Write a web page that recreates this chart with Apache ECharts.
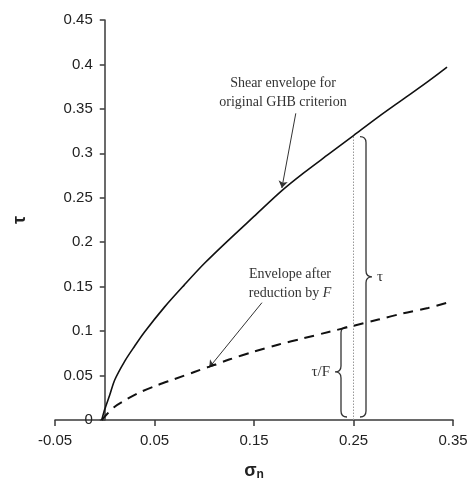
<!DOCTYPE html>
<html>
<head>
<meta charset="utf-8">
<script src="https://cdn.jsdelivr.net/npm/echarts@6/dist/echarts.min.js"></script>
<style>html,body{margin:0;padding:0;background:#fff}#c{width:469px;height:490px}</style>
</head>
<body>
<div id="c"></div>
<script>
// ---- data ----
const xTickValues = [-0.05, 0.05, 0.15, 0.25, 0.35];
const originalEnvelope = [
  [-0.003, 0], [0, 0.012], [0.005, 0.028], [0.01, 0.045], [0.02, 0.066],
  [0.03, 0.083], [0.04, 0.099], [0.06, 0.127], [0.08, 0.152], [0.1, 0.176],
  [0.125, 0.203], [0.15, 0.229], [0.178, 0.258], [0.2, 0.278], [0.225, 0.299],
  [0.25, 0.32], [0.275, 0.341], [0.3, 0.361], [0.325, 0.381], [0.344, 0.397]
];
const reducedEnvelope = [
  [-0.003, 0], [0, 0.004], [0.01, 0.015], [0.02, 0.022], [0.033, 0.03],
  [0.05, 0.038], [0.07, 0.046], [0.09, 0.054], [0.105, 0.06], [0.125, 0.068],
  [0.15, 0.077], [0.175, 0.085], [0.2, 0.092], [0.225, 0.099], [0.25, 0.106],
  [0.275, 0.113], [0.3, 0.12], [0.325, 0.126], [0.344, 0.132]
];
const markerLine = [[0.25, 0], [0.25, 0.32]];
// braces: [sigma, tauTop, tauBottom, direction(+1 right / -1 left)]
const braces = [[0.25, 0.32, 0, 1], [0.25, 0.106, 0, -1]];
const braceLabels = ['τ', 'τ/F'];
const arrows = [
  [[0.192, 0.345], [0.178, 0.261]],
  [[0.158, 0.132], [0.105, 0.059]]
];

const chart = echarts.init(document.getElementById('c'));
const axisColor = '#3a3a3a';
const textColor = '#222';
const serif = '"Liberation Serif", "Times New Roman", serif';
const gridLeft = 55, gridRight = 16;
const xMin = -0.05, xMax = 0.35;
// shift the y axis so it sits on sigma = 0
const yAxisShift = -(0 - xMin) / (xMax - xMin) * (469 - gridLeft - gridRight);

chart.setOption({
  animation: false,
  backgroundColor: '#fff',
  grid: { left: gridLeft, right: gridRight, top: 20, bottom: 70, containLabel: false, outerBoundsMode: 'none' },
  xAxis: {
    type: 'value', min: xMin, max: xMax,
    name: '{s|σ}{n|n}', nameLocation: 'middle', nameGap: 41,
    nameTextStyle: {
      rich: {
        s: { fontFamily: 'Liberation Sans', fontWeight: 'bold', fontSize: 18, color: textColor },
        n: { fontFamily: 'Liberation Sans', fontWeight: 'bold', fontSize: 12, color: textColor, padding: [8, 0, 0, 0] }
      }
    },
    splitLine: { show: false },
    axisLine: { lineStyle: { color: axisColor, width: 1.5 } },
    axisTick: { customValues: xTickValues, length: 6, lineStyle: { color: axisColor, width: 1.5 } },
    axisLabel: { customValues: xTickValues, margin: 13, fontFamily: 'Liberation Sans', fontSize: 15, color: textColor,
      formatter: v => String(Math.round(v * 100) / 100) }
  },
  yAxis: {
    type: 'value', min: 0, max: 0.45, interval: 0.05,
    offset: yAxisShift,
    name: 'τ', nameLocation: 'middle', nameGap: 76, nameRotate: 90,
    nameTextStyle: { fontFamily: 'Liberation Sans', fontWeight: 'bold', fontSize: 18, color: textColor },
    splitLine: { show: false },
    axisLine: { onZero: false, lineStyle: { color: axisColor, width: 1.5 } },
    axisTick: { length: 5, lineStyle: { color: axisColor, width: 1.5 } },
    axisLabel: { margin: 12, fontFamily: 'Liberation Sans', fontSize: 15, color: textColor,
      formatter: v => String(Math.round(v * 100) / 100) }
  },
  series: [
    {
      type: 'line', data: markerLine, symbol: 'none', silent: true,
      lineStyle: { color: '#999', width: 1, type: [1.5, 1.5] }
    },
    {
      type: 'line', data: originalEnvelope, symbol: 'none', smooth: 0.3,
      lineStyle: { color: '#111', width: 1.6 }
    },
    {
      type: 'line', data: reducedEnvelope, symbol: 'none', smooth: 0.3,
      lineStyle: { color: '#111', width: 2, type: [10, 7] }
    },
    {
      type: 'custom', data: braces, silent: true,
      renderItem: function (params, api) {
        const sig = api.value(0), dir = api.value(3);
        const top = api.coord([sig, api.value(1)]);
        const bot = api.coord([sig, api.value(2)]);
        const s = top[0] + dir * 12.5;
        const h = 6;
        const y1 = top[1] + 1, y2 = bot[1] - 3, ym = (y1 + y2) / 2;
        const hx = s - dir * h, tx = s + dir * h;
        const d = 'M' + hx + ' ' + y1 + ' Q' + s + ' ' + y1 + ' ' + s + ' ' + (y1 + h) +
          ' L' + s + ' ' + (ym - h) + ' Q' + s + ' ' + ym + ' ' + tx + ' ' + ym +
          ' Q' + s + ' ' + ym + ' ' + s + ' ' + (ym + h) +
          ' L' + s + ' ' + (y2 - h) + ' Q' + s + ' ' + y2 + ' ' + hx + ' ' + y2;
        return {
          type: 'group',
          children: [
            { type: 'path', shape: { pathData: d }, style: { fill: 'none', stroke: '#333', lineWidth: 1.3 } },
            { type: 'text', style: {
                text: braceLabels[params.dataIndex], x: tx + dir * 5, y: ym,
                align: dir > 0 ? 'left' : 'right', verticalAlign: 'middle',
                font: '15px ' + serif, fill: '#333' } }
          ]
        };
      }
    },
    {
      type: 'lines', coordinateSystem: 'cartesian2d', silent: true,
      symbol: ['none', 'arrow'], symbolSize: 7,
      lineStyle: { color: '#333', width: 1, opacity: 1 },
      data: arrows.map(a => ({ coords: a }))
    }
  ],
  graphic: [
    { type: 'text', x: 283, y: 83, style: { text: 'Shear envelope for', font: '14px ' + serif, fill: '#333', align: 'center', verticalAlign: 'middle' } },
    { type: 'text', x: 283, y: 102, style: { text: 'original GHB criterion', font: '14px ' + serif, fill: '#333', align: 'center', verticalAlign: 'middle' } },
    { type: 'text', x: 290, y: 274, style: { text: 'Envelope after', font: '14px ' + serif, fill: '#333', align: 'center', verticalAlign: 'middle' } },
    { type: 'text', x: 290, y: 293, style: { text: '{n|reduction by }{i|F}', align: 'center', verticalAlign: 'middle',
        rich: { n: { font: '14px ' + serif, fill: '#333' }, i: { font: 'italic 14px ' + serif, fill: '#333' } } } }
  ]
});
</script>
</body>
</html>
